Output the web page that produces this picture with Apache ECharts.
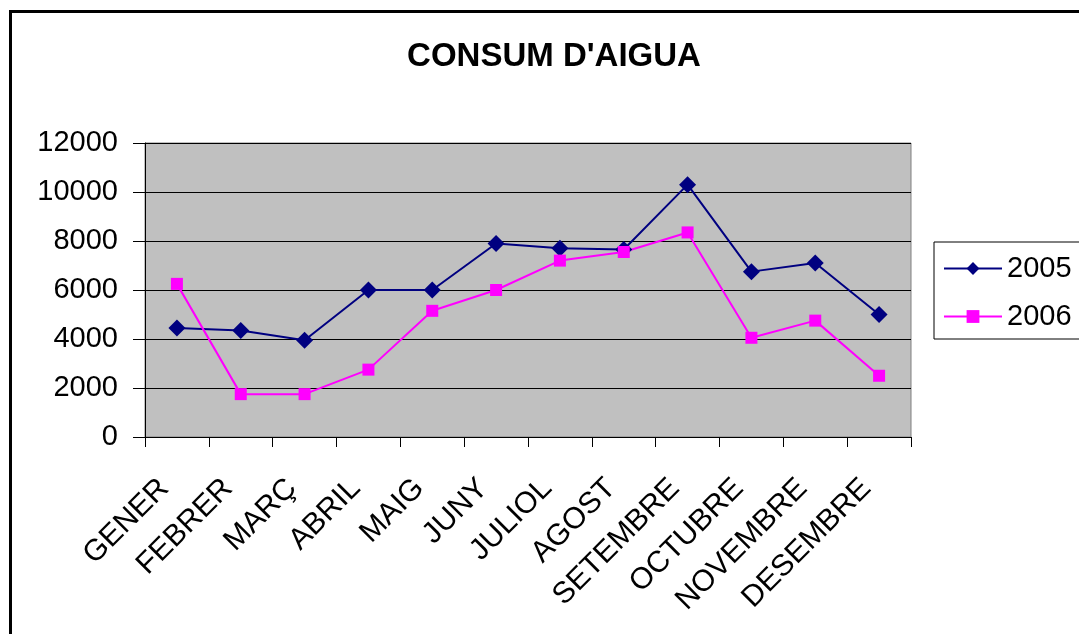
<!DOCTYPE html>
<html>
<head>
<meta charset="utf-8">
<title>CONSUM D'AIGUA</title>
<script src="https://cdn.jsdelivr.net/npm/echarts@6/dist/echarts.min.js"></script>
<style>
  html, body { margin: 0; padding: 0; background: #fff; overflow: hidden; }
  #chart { width: 1079px; height: 634px; }
  .frame {
    position: absolute; left: 9px; top: 10px; width: 1200px; height: 800px;
    border-left: 3px solid #000; border-top: 3px solid #000; pointer-events: none;
  }
</style>
</head>
<body>
<div id="chart"></div>
<div class="frame"></div>
<script>
// mesos
var months = ['GENER', 'FEBRER', 'MARÇ', 'ABRIL', 'MAIG', 'JUNY', 'JULIOL', 'AGOST', 'SETEMBRE', 'OCTUBRE', 'NOVEMBRE', 'DESEMBRE']
// consum per any (llegit del gràfic)
var consum2005 = [4450, 4350, 3950, 6000, 6000, 7900, 7700, 7650, 10300, 6750, 7100, 5000]
var consum2006 = [6250, 1750, 1750, 2750, 5150, 6000, 7200, 7550, 8350, 4050, 4750, 2500]
var yMax = 12000
var yStep = 2000

var font = "'Liberation Sans', Arial, sans-serif"

var option = {
  animation: false,
  title: {
    text: "CONSUM D'AIGUA",
    left: 549,
    textAlign: 'center',
    top: 35,
    textStyle: { fontFamily: font, fontSize: 33, fontWeight: 'bold', color: '#000' }
  },
  legend: {
    orient: 'vertical',
    left: 934,
    top: 242,
    data: ['2005', '2006'],
    backgroundColor: '#fff',
    borderColor: '#000',
    borderWidth: 1,
    padding: [12, 30, 8, 9],
    itemGap: 19,
    itemWidth: 58,
    itemHeight: 16,
    textStyle: { fontFamily: font, fontSize: 29, color: '#000' }
  },
  grid: {
    left: 145,
    top: 143,
    right: 168,
    bottom: 197,
    show: true,
    backgroundColor: '#c0c0c0',
    borderColor: '#808080',
    borderWidth: 1
  },
  xAxis: {
    type: 'category',
    data: months,
    boundaryGap: true,
    axisLine: { lineStyle: { color: '#000', width: 1 } },
    axisTick: { show: true, length: 10, lineStyle: { color: '#000' } },
    axisLabel: {
      rotate: 45,
      margin: 34,
      padding: [0, 18, 0, 0],
      interval: 0,
      fontFamily: font,
      fontSize: 30,
      color: '#000'
    }
  },
  yAxis: {
    type: 'value',
    min: 0,
    max: yMax,
    interval: yStep,
    axisLine: { show: true, lineStyle: { color: '#000', width: 1 } },
    axisTick: { show: true, length: 12, lineStyle: { color: '#000' } },
    axisLabel: {
      margin: 27,
      fontFamily: font,
      fontSize: 29,
      color: '#000',
      formatter: function (v) { return String(v) }
    },
    splitLine: { show: true, lineStyle: { color: '#000', width: 1 } }
  },
  series: [
    {
      name: '2005',
      type: 'line',
      data: consum2005,
      symbol: 'diamond',
      symbolSize: 17,
      color: '#000080',
      lineStyle: { color: '#000080', width: 2 },
      itemStyle: { color: '#000080' }
    },
    {
      name: '2006',
      type: 'line',
      data: consum2006,
      symbol: 'rect',
      symbolSize: 12,
      color: '#ff00ff',
      lineStyle: { color: '#ff00ff', width: 2 },
      itemStyle: { color: '#ff00ff' }
    }
  ]
}

var chart = echarts.init(document.getElementById('chart'))
chart.setOption(option)
</script>
</body>
</html>
